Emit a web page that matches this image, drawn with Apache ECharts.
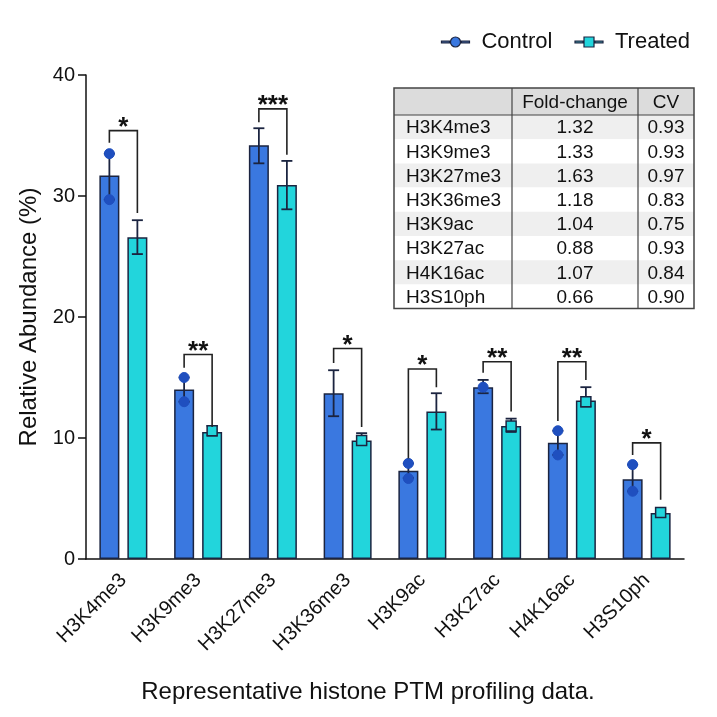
<!DOCTYPE html>
<html>
<head>
<meta charset="utf-8">
<script src="https://cdn.jsdelivr.net/npm/echarts@6/dist/echarts.min.js"></script>
<style>
  html, body { margin: 0; padding: 0; background: #fff; }
  #chart { width: 717px; height: 717px; }
</style>
</head>
<body>
<div id="chart"></div>
<script>
// histone marks
var categories = ['H3K4me3', 'H3K9me3', 'H3K27me3', 'H3K36me3', 'H3K9ac', 'H3K27ac', 'H4K16ac', 'H3S10ph'];

// mean relative abundance (%)
var controlMean = [31.7, 14.0, 34.2, 13.7, 7.3, 14.2, 9.6, 6.6];
var treatedMean = [26.6, 10.5, 30.9, 9.8, 12.2, 11.0, 13.1, 3.8];

// error bar ends
var controlLow = [29.7, 13.0, 32.7, 11.8, 6.7, 13.7, 8.6, 5.6];
var controlHigh = [33.5, 15.0, 35.6, 15.6, 7.9, 14.8, 10.6, 7.8];
var treatedLow = [25.2, 10.2, 28.9, 9.5, 10.7, 10.5, 12.6, 3.5];
var treatedHigh = [28.0, 11.0, 32.9, 10.4, 13.7, 11.6, 14.2, 4.1];

// replicate points
var controlPoints = [[33.5, 29.7], [15.0, 13.0], [], [], [7.9, 6.65], [14.2], [10.6, 8.6], [7.8, 5.6]];
var treatedPoints = [[], [10.6], [], [9.8], [], [11.0], [13.0], [3.85]];

// significance brackets
var bracketTop = [35.4, 16.9, 37.2, 17.4, 15.7, 16.3, 16.3, 9.6];
var bracketLeft = [34.4, 15.8, 36.1, 16.2, 8.3, 15.4, 11.4, 8.6];
var bracketRight = [28.6, 10.9, 33.4, 10.9, 14.2, 12.2, 14.8, 4.9];
var stars = ['*', '**', '***', '*', '*', '**', '**', '*'];

// table
var tableHeader = ['', 'Fold-change', 'CV'];
var foldChange = ['1.32', '1.33', '1.63', '1.18', '1.04', '0.88', '1.07', '0.66'];
var cv = ['0.93', '0.93', '0.97', '0.83', '0.75', '0.93', '0.84', '0.90'];

var yTicks = [0, 10, 20, 30, 40];

var FONT = 'Liberation Sans, Arial, sans-serif';
var DARK = '#1b2440';
var C_BLUE = '#3a78e0';
var C_CYAN = '#22d5dc';
var C_POINT = '#1f4fbf';
var OFF = 14; // half distance between the two bars of a group

function errRender(offset) {
    return function (params, api) {
        var i = api.value(0);
        var lo = api.coord([i, api.value(1)]);
        var hi = api.coord([i, api.value(2)]);
        var x = lo[0] + offset;
        var st = { stroke: DARK, lineWidth: 1.8 };
        return {
            type: 'group',
            children: [
                { type: 'line', shape: { x1: x, y1: lo[1], x2: x, y2: hi[1] }, style: st },
                { type: 'line', shape: { x1: x - 5.5, y1: lo[1], x2: x + 5.5, y2: lo[1] }, style: st },
                { type: 'line', shape: { x1: x - 5.5, y1: hi[1], x2: x + 5.5, y2: hi[1] }, style: st }
            ]
        };
    };
}

function pointRender(params, api) {
    var i = api.value(0);
    var p = api.coord([i, api.value(1)]);
    if (api.value(2) === 0) {
        return {
            type: 'circle',
            shape: { cx: p[0] - OFF, cy: p[1], r: 5 },
            style: { fill: C_POINT, stroke: C_POINT, lineWidth: 1 }
        };
    }
    return {
        type: 'rect',
        shape: { x: p[0] + OFF - 5, y: p[1] - 5, width: 10, height: 10 },
        style: { fill: C_CYAN, stroke: DARK, lineWidth: 1.5 }
    };
}

function bracketRender(params, api) {
    var i = api.value(0);
    var top = api.coord([i, api.value(1)]);
    var l = api.coord([i, api.value(2)]);
    var r = api.coord([i, api.value(3)]);
    var x1 = top[0] - OFF, x2 = top[0] + OFF;
    return {
        type: 'group',
        children: [
            {
                type: 'polyline',
                shape: { points: [[x1, l[1]], [x1, top[1]], [x2, top[1]], [x2, r[1]]] },
                style: { stroke: '#222', lineWidth: 1.6, fill: null }
            },
            {
                type: 'text',
                style: {
                    text: stars[params.dataIndex], x: top[0], y: top[1] + 10,
                    align: 'center', verticalAlign: 'bottom',
                    font: 'bold 26px ' + FONT, fill: '#111'
                }
            }
        ]
    };
}

var errC = categories.map(function (c, i) { return [i, controlLow[i], controlHigh[i]]; });
var errT = categories.map(function (c, i) { return [i, treatedLow[i], treatedHigh[i]]; });
var pts = [];
controlPoints.forEach(function (arr, i) { arr.forEach(function (v) { pts.push([i, v, 0]); }); });
treatedPoints.forEach(function (arr, i) { arr.forEach(function (v) { pts.push([i, v, 1]); }); });
var brackets = categories.map(function (c, i) { return [i, bracketTop[i], bracketLeft[i], bracketRight[i]]; });

// table as graphic
function buildTable() {
    var left = 394, top = 88, width = 300, headH = 27, rowH = 24.2;
    var cols = [394, 512, 638, 694];
    var kids = [];
    var totalH = headH + rowH * categories.length;
    kids.push({ type: 'rect', shape: { x: left, y: top, width: width, height: headH }, style: { fill: '#dcdcdc' } });
    categories.forEach(function (c, i) {
        kids.push({
            type: 'rect',
            shape: { x: left, y: top + headH + rowH * i, width: width, height: rowH },
            style: { fill: i % 2 === 0 ? '#efefef' : '#ffffff' }
        });
    });
    kids.push({ type: 'line', shape: { x1: left, y1: top + headH, x2: left + width, y2: top + headH }, style: { stroke: '#444', lineWidth: 1.2 } });
    [cols[1], cols[2]].forEach(function (x) {
        kids.push({ type: 'line', shape: { x1: x, y1: top, x2: x, y2: top + totalH }, style: { stroke: '#444', lineWidth: 1.2 } });
    });
    kids.push({ type: 'rect', shape: { x: left, y: top, width: width, height: totalH }, style: { fill: null, stroke: '#444', lineWidth: 1.5 } });
    var f = '19px ' + FONT;
    kids.push({ type: 'text', style: { text: tableHeader[1], x: (cols[1] + cols[2]) / 2, y: top + headH / 2 + 1, align: 'center', verticalAlign: 'middle', font: f, fill: '#111' } });
    kids.push({ type: 'text', style: { text: tableHeader[2], x: (cols[2] + cols[3]) / 2, y: top + headH / 2 + 1, align: 'center', verticalAlign: 'middle', font: f, fill: '#111' } });
    categories.forEach(function (c, i) {
        var y = top + headH + rowH * i + rowH / 2 + 1;
        kids.push({ type: 'text', style: { text: c, x: 406, y: y, align: 'left', verticalAlign: 'middle', font: f, fill: '#111' } });
        kids.push({ type: 'text', style: { text: foldChange[i], x: (cols[1] + cols[2]) / 2, y: y, align: 'center', verticalAlign: 'middle', font: f, fill: '#111' } });
        kids.push({ type: 'text', style: { text: cv[i], x: (cols[2] + cols[3]) / 2, y: y, align: 'center', verticalAlign: 'middle', font: f, fill: '#111' } });
    });
    return { type: 'group', z: 100, children: kids };
}

var option = {
    animation: false,
    backgroundColor: '#fff',
    textStyle: { fontFamily: FONT },
    legend: {
        right: 22,
        top: 26,
        itemWidth: 28,
        itemHeight: 12,
        itemGap: 22,
        textStyle: { fontSize: 22, color: '#111', fontFamily: FONT, padding: [0, 0, 0, 7] },
        itemStyle: { borderColor: DARK, borderWidth: 1.2 },
        data: [
            { name: 'Control', icon: 'path://M0,5.2 H8 V6.8 H0 Z M20,5.2 H28 V6.8 H20 Z M9,6 A5,5 0 1,1 19,6 A5,5 0 1,1 9,6 Z' },
            { name: 'Treated', icon: 'path://M0,5.2 H8 V6.8 H0 Z M20,5.2 H28 V6.8 H20 Z M9,1 H19 V11 H9 Z' }
        ]
    },
    grid: { left: 86, right: 33, top: 75, bottom: 158, containLabel: false },
    xAxis: {
        type: 'category',
        data: categories,
        name: 'Representative histone PTM profiling data.',
        nameLocation: 'middle',
        nameGap: 121,
        nameTextStyle: { fontSize: 24, color: '#111', fontFamily: FONT, padding: [0, 34, 0, 0] },
        axisLine: { lineStyle: { color: '#111', width: 1.5 } },
        axisTick: { alignWithLabel: true, length: 7, lineStyle: { color: '#111', width: 1.5 } },
        axisLabel: { rotate: 45, fontSize: 20, color: '#111', margin: 18, fontFamily: FONT }
    },
    yAxis: {
        type: 'value',
        min: yTicks[0],
        max: yTicks[yTicks.length - 1],
        interval: 10,
        name: 'Relative Abundance (%)',
        nameLocation: 'middle',
        nameGap: 45,
        nameTextStyle: { fontSize: 24, color: '#111', fontFamily: FONT },
        axisLine: { show: true, lineStyle: { color: '#111', width: 1.5 } },
        axisTick: { show: true, length: 8, lineStyle: { color: '#111', width: 1.5 } },
        axisLabel: { fontSize: 20, color: '#111', margin: 11, fontFamily: FONT },
        splitLine: { show: false }
    },
    series: [
        {
            name: 'Control',
            type: 'bar',
            data: controlMean,
            barWidth: 20,
            barGap: '40%',
            itemStyle: { color: C_BLUE, borderColor: DARK, borderWidth: 1.5 },
            z: 2
        },
        {
            name: 'Treated',
            type: 'bar',
            data: treatedMean,
            barWidth: 20,
            itemStyle: { color: C_CYAN, borderColor: DARK, borderWidth: 1.5 },
            z: 2
        },
        { type: 'custom', renderItem: errRender(-OFF), data: errC, encode: { x: 0, y: [1, 2] }, z: 3, silent: true },
        { type: 'custom', renderItem: errRender(OFF), data: errT, encode: { x: 0, y: [1, 2] }, z: 3, silent: true },
        { type: 'custom', renderItem: pointRender, data: pts, encode: { x: 0, y: 1 }, z: 4, silent: true },
        { type: 'custom', renderItem: bracketRender, data: brackets, encode: { x: 0, y: [1, 2, 3] }, z: 5, silent: true }
    ],
    graphic: [buildTable()]
};

var myChart = echarts.init(document.getElementById('chart'));
myChart.setOption(option);
</script>
</body>
</html>
